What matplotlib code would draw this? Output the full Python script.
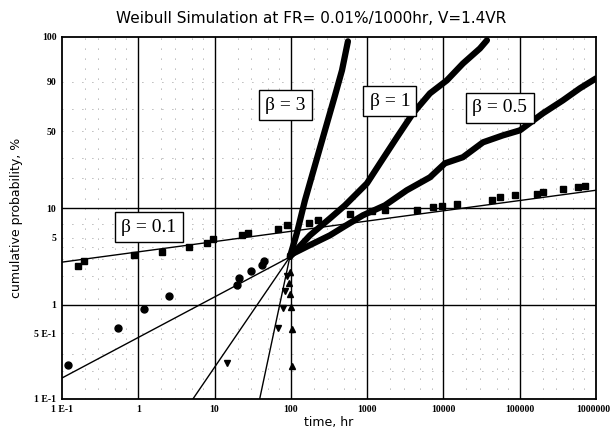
import numpy as np
import matplotlib
matplotlib.use('Agg')
import matplotlib.pyplot as plt
from matplotlib.transforms import offset_copy

# time axis ticks (hr) and cumulative probability ticks (%)
x_ticks = [0.1, 1, 10, 100, 1000, 10000, 100000, 1000000]
x_labels = ['1 E-1', '1', '10', '100', '1000', '10000', '100000', '1000000']
y_ticks = [0.1, 0.5, 1, 5, 10, 50, 90, 99.9]
y_labels = ['1 E-1', '5 E-1', '1', '5', '10', '50', '90', '100']
y_minor = [0.2, 0.3, 0.5, 2, 3, 4, 5, 7, 20, 30, 50, 70, 90]

# beta = 0.1 simulated failures (squares)
b01_t = [0.162, 0.194, 0.88, 2.05, 4.6, 7.9, 9.5, 22.9, 27.4, 67.8, 89, 173, 226,
         596, 1157, 1710, 4500, 7280, 9550, 15000, 43200, 55000, 86500,
         168000, 200000, 368000, 580000, 715000]
b01_F = [2.53, 2.85, 3.30, 3.55, 3.98, 4.46, 4.85, 5.31, 5.65, 6.1, 6.73, 7.15, 7.58,
         8.8, 9.4, 9.6, 9.6, 10.3, 10.5, 11.1, 12.0, 13.0, 13.5,
         14.0, 14.4, 15.4, 16.1, 16.5]

# beta = 0.5 early failures (circles) and the dense tail
b05_t = [0.12, 0.54, 1.19, 2.5, 19.7, 21, 30, 42, 44]
b05_F = [0.23, 0.565, 0.9, 1.23, 1.6, 1.9, 2.25, 2.6, 2.9]
b05_tail_t = [97, 178, 325, 512, 881, 1710, 3310, 6650, 10470, 18000, 33000,
              60300, 100700, 201000, 368000, 615000, 1000000]
b05_tail_F = [3.3, 4.2, 5.3, 6.6, 8.5, 10.7, 15.1, 20.1, 27.1, 30.7, 41.0,
              46.5, 50.7, 65.7, 77.0, 86.1, 91.9]

# beta = 1 early failures (down triangles) and the dense tail
b1_t = [14.6, 67.8, 80, 85, 90]
b1_F = [0.24, 0.565, 0.92, 1.4, 2.0]
b1_tail_t = [97, 178, 325, 512, 994, 1472, 2455, 3980, 6650, 11100, 18000, 30100, 37200]
b1_tail_F = [3.16, 5.3, 7.9, 10.7, 17.6, 27.1, 44.9, 65.7, 82.5, 90.9, 97.3, 99.46, 99.83]

# beta = 3 early failures (up triangles) and the dense tail
b3_t = [103, 102, 100, 97, 95, 96]
b3_F = [0.224, 0.55, 0.95, 1.3, 1.7, 2.2]
b3_tail_t = [97, 120, 153, 207, 280, 379, 468, 560]
b3_tail_F = [3.16, 5.6, 12.0, 26.0, 50.7, 81.0, 95.3, 99.8]

# reference Weibull lines (end points)
line01_t, line01_F = [0.1, 1000000], [2.79, 15.1]
line05_t, line05_F = [0.1, 97], [0.167, 3.16]
line1_t, line1_F = [5.2, 97], [0.1, 3.16]
line3_t, line3_F = [39, 97], [0.1, 3.16]


def weib(p):
    p = np.clip(np.asarray(p, dtype=float), 1e-9, 100 - 1e-9)
    return np.log(-np.log(1 - p / 100.0))


def weib_inv(u):
    return 100.0 * (1 - np.exp(-np.exp(u)))


fig = plt.figure(figsize=(6.11, 4.34), dpi=100)
ax = fig.add_axes([62 / 611, 1 - 399 / 434, 534 / 611, 362 / 434])
ax.set_xscale('log')
ax.set_yscale('function', functions=(weib, weib_inv))
ax.set_xlim(0.1, 1000000)
ax.set_ylim(0.1, 99.9)

# faint dotted minor grid
for yv in y_minor:
    ax.axhline(yv, color='0.45', lw=0.6, ls=(0, (1, 11)), zorder=0)
for dec in x_ticks[:-1]:
    for m in (2, 3, 5, 7):
        ax.axvline(dec * m, color='0.45', lw=0.6, ls=(0, (1, 11)), zorder=0)

# solid major grid
for xv in x_ticks[1:-1]:
    ax.axvline(xv, color='black', lw=1.0, zorder=1)
for yv in [1, 10]:
    ax.axhline(yv, color='black', lw=1.0, zorder=1)

# reference lines
for lt, lf in [(line01_t, line01_F), (line05_t, line05_F), (line1_t, line1_F), (line3_t, line3_F)]:
    ax.plot(lt, lf, color='black', lw=1.0, zorder=2)

# simulated data
ax.plot(b01_t, b01_F, 's', color='black', ms=4.5, zorder=3)
ax.plot(b05_t, b05_F, 'o', color='black', ms=5, zorder=3)
ax.plot(b05_tail_t, b05_tail_F, '-', color='black', lw=4.5, solid_capstyle='round', zorder=3)
ax.plot(b1_t, b1_F, 'v', color='black', ms=5, zorder=3)
ax.plot(b1_tail_t, b1_tail_F, '-', color='black', lw=4.5, solid_capstyle='round', zorder=3)
ax.plot(b3_t, b3_F, '^', color='black', ms=5, zorder=3)
ax.plot(b3_tail_t, b3_tail_F, '-', color='black', lw=4.5, solid_capstyle='round', zorder=3)

# beta annotations
box = dict(boxstyle='square,pad=0.32', fc='white', ec='black', lw=1.0)
for txt, bx, by in [('β = 3', 0.418, 0.812), ('β = 1', 0.614, 0.823),
                    ('β = 0.5', 0.820, 0.804), ('β = 0.1', 0.163, 0.475)]:
    ax.text(bx, by, txt, transform=ax.transAxes, ha='center', va='center',
            fontsize=14, family='Liberation Serif', bbox=box, zorder=5)

ax.set_xticks(x_ticks)
ax.set_xticklabels(x_labels)
ax.set_yticks(y_ticks)
ax.set_yticklabels(y_labels)
ax.minorticks_off()
ax.tick_params(length=0, labelsize=7, pad=4)
for lab in ax.get_xticklabels() + ax.get_yticklabels():
    lab.set_family('Liberation Serif')
    lab.set_fontweight('bold')

# keep the last time label inside the figure
last = ax.get_xticklabels()[-1]
last.set_ha('right')
last.set_transform(offset_copy(last.get_transform(), fig=fig, x=14, y=0, units='dots'))

for s in ax.spines.values():
    s.set_linewidth(1.3)
    s.set_color('black')

ax.set_xlabel('time, hr', fontsize=9, labelpad=2)
ax.set_ylabel('cumulative probability, %', fontsize=9, labelpad=8)
ax.set_title('Weibull Simulation at FR= 0.01%/1000hr, V=1.4VR', fontsize=11, pad=10, x=0.466)

fig.savefig('out.png', dpi=100)
